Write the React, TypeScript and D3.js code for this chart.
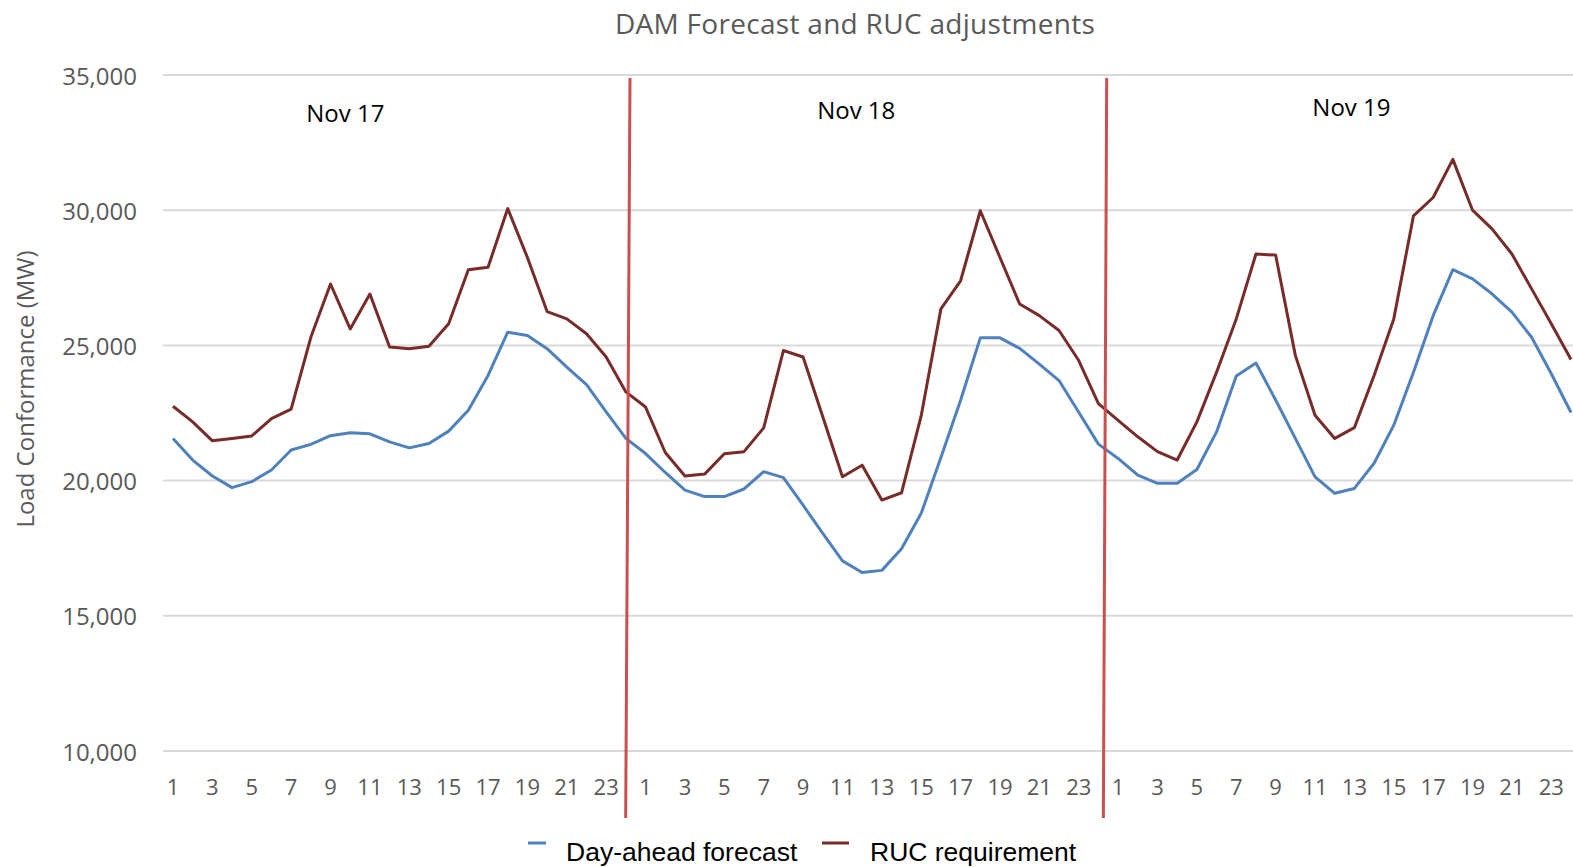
import React from "react";
import * as d3 from "d3";

const hours: number[] = [
  1, 2, 3, 4, 5, 6, 7, 8, 9, 10, 11, 12, 13, 14, 15, 16, 17, 18, 19, 20, 21, 22, 23, 24,
  1, 2, 3, 4, 5, 6, 7, 8, 9, 10, 11, 12, 13, 14, 15, 16, 17, 18, 19, 20, 21, 22, 23, 24,
  1, 2, 3, 4, 5, 6, 7, 8, 9, 10, 11, 12, 13, 14, 15, 16, 17, 18, 19, 20, 21, 22, 23, 24,
];

const dayAheadForecast: number[] = [
  // Nov 17
  21560, 20760, 20170, 19740, 19960, 20390, 21130, 21340, 21660, 21770, 21730, 21430,
  21210, 21370, 21830, 22600, 23890, 25490, 25370, 24880, 24200, 23550, 22540, 21560,
  // Nov 18
  21000, 20300, 19650, 19410, 19410, 19690, 20330, 20110, 19090, 18050, 17030, 16600,
  16680, 17480, 18790, 20850, 22970, 25280, 25280, 24890, 24310, 23700, 22530, 21350,
  // Nov 19
  20820, 20200, 19900, 19900, 20410, 21800, 23870, 24350, 22980, 21560, 20140, 19530,
  19710, 20640, 22050, 24010, 26100, 27800, 27460, 26900, 26230, 25300, 23950, 22520,
];

const rucRequirement: number[] = [
  // Nov 17
  22750, 22170, 21470, 21560, 21650, 22290, 22640, 25300, 27270, 25610, 26900, 24940,
  24880, 24970, 25800, 27800, 27890, 30060, 28250, 26250, 25980, 25430, 24570, 23280,
  // Nov 18
  22720, 21040, 20170, 20240, 20990, 21070, 21950, 24810, 24570, 22360, 20140, 20570,
  19280, 19550, 22400, 26350, 27390, 29980, 28250, 26530, 26100, 25550, 24440, 22850,
  // Nov 19
  22230, 21620, 21070, 20760, 22170, 24010, 25980, 28380, 28340, 24630, 22420, 21560,
  21960, 23890, 25980, 29790, 30470, 31880, 30000, 29300, 28380, 27090, 25800, 24480,
];

const yTicks: number[] = [10000, 15000, 20000, 25000, 30000, 35000];

const dayNames: string[] = ["Nov 17", "Nov 18", "Nov 19"];
const dayLabelIndex: number[] = [8.75, 34.7, 59.85];
const dayLabelValue: number[] = [33600, 33740, 33850];

// day separators (index units at top / bottom of the drawn line)
const dividerTop: number[] = [23.21, 47.42];
const dividerBottom: number[] = [22.99, 47.25];

const seriesNames: string[] = ["Day-ahead forecast", "RUC requirement"];
const seriesColors: string[] = ["#4f81bd", "#772c2a"];

const W = 1573;
const H = 867;

export default function App() {
  const n = hours.length;
  const x = d3.scaleLinear().domain([0, n - 1]).range([173, 173 + (n - 1) * 19.69]);
  const step = x(1) - x(0);
  const y = d3.scaleLinear().domain([10000, 35000]).range([751, 75]);
  const plotLeft = x(0) - step / 2;

  const line = d3
    .line<number>()
    .x((_, i) => x(i))
    .y((v) => y(v));

  const fmt = d3.format(",");
  const font = "'Open Sans', sans-serif";
  const legendFont = "'Liberation Sans', Arial, sans-serif";

  const series = [dayAheadForecast, rucRequirement];

  return (
    <svg
      width={W}
      height={H}
      style={{ position: "absolute", left: 0, top: 0, background: "#fff" }}
    >
      <rect x={0} y={0} width={W} height={H} fill="#fff" />
      <text
        x={855}
        y={23}
        textAnchor="middle"
        dominantBaseline="central"
        fontFamily={font}
        fontSize={28}
        letterSpacing={0.3}
        fill="#595959"
      >
        DAM Forecast and RUC adjustments
      </text>

      {yTicks.map((t) => (
        <g key={t}>
          <line
            x1={plotLeft}
            x2={W + 20}
            y1={y(t)}
            y2={y(t)}
            stroke="#d9d9d9"
            strokeWidth={2}
          />
          <text
            x={137}
            y={y(t)}
            textAnchor="end"
            dominantBaseline="central"
            fontFamily={font}
            fontSize={24}
            fill="#595959"
          >
            {fmt(t)}
          </text>
        </g>
      ))}

      <text
        transform={`translate(24,389) rotate(-90)`}
        textAnchor="middle"
        dominantBaseline="central"
        fontFamily={font}
        fontSize={24}
        fill="#595959"
      >
        Load Conformance (MW)
      </text>

      {hours.map((h, i) =>
        h % 2 === 1 ? (
          <text
            key={i}
            x={x(i)}
            y={786}
            textAnchor="middle"
            dominantBaseline="central"
            fontFamily={font}
            fontSize={22}
            fill="#595959"
          >
            {h}
          </text>
        ) : null
      )}

      {series.map((s, k) => (
        <path
          key={k}
          d={line(s) || ""}
          fill="none"
          stroke={seriesColors[k]}
          strokeWidth={3}
          strokeLinejoin="round"
        />
      ))}

      {dividerTop.map((t, k) => (
        <line
          key={k}
          x1={x(t)}
          y1={78}
          x2={x(dividerBottom[k])}
          y2={818}
          stroke="#cc4f4f"
          strokeWidth={3}
        />
      ))}

      {dayNames.map((d, k) => (
        <text
          key={d}
          x={x(dayLabelIndex[k])}
          y={y(dayLabelValue[k])}
          textAnchor="middle"
          dominantBaseline="central"
          fontFamily={font}
          fontSize={24}
          fill="#000"
        >
          {d}
        </text>
      ))}

      {seriesNames.map((name, k) => {
        const lx = [528, 822][k];
        return (
          <g key={name}>
            <line
              x1={lx}
              x2={lx + (k === 0 ? 18 : 27)}
              y1={843}
              y2={843}
              stroke={seriesColors[k]}
              strokeWidth={3}
            />
            <text
              x={lx + (k === 0 ? 38 : 48)}
              y={852}
              dominantBaseline="central"
              fontFamily={legendFont}
              fontSize={26.5}
              fill="#000"
            >
              {name}
            </text>
          </g>
        );
      })}
    </svg>
  );
}
